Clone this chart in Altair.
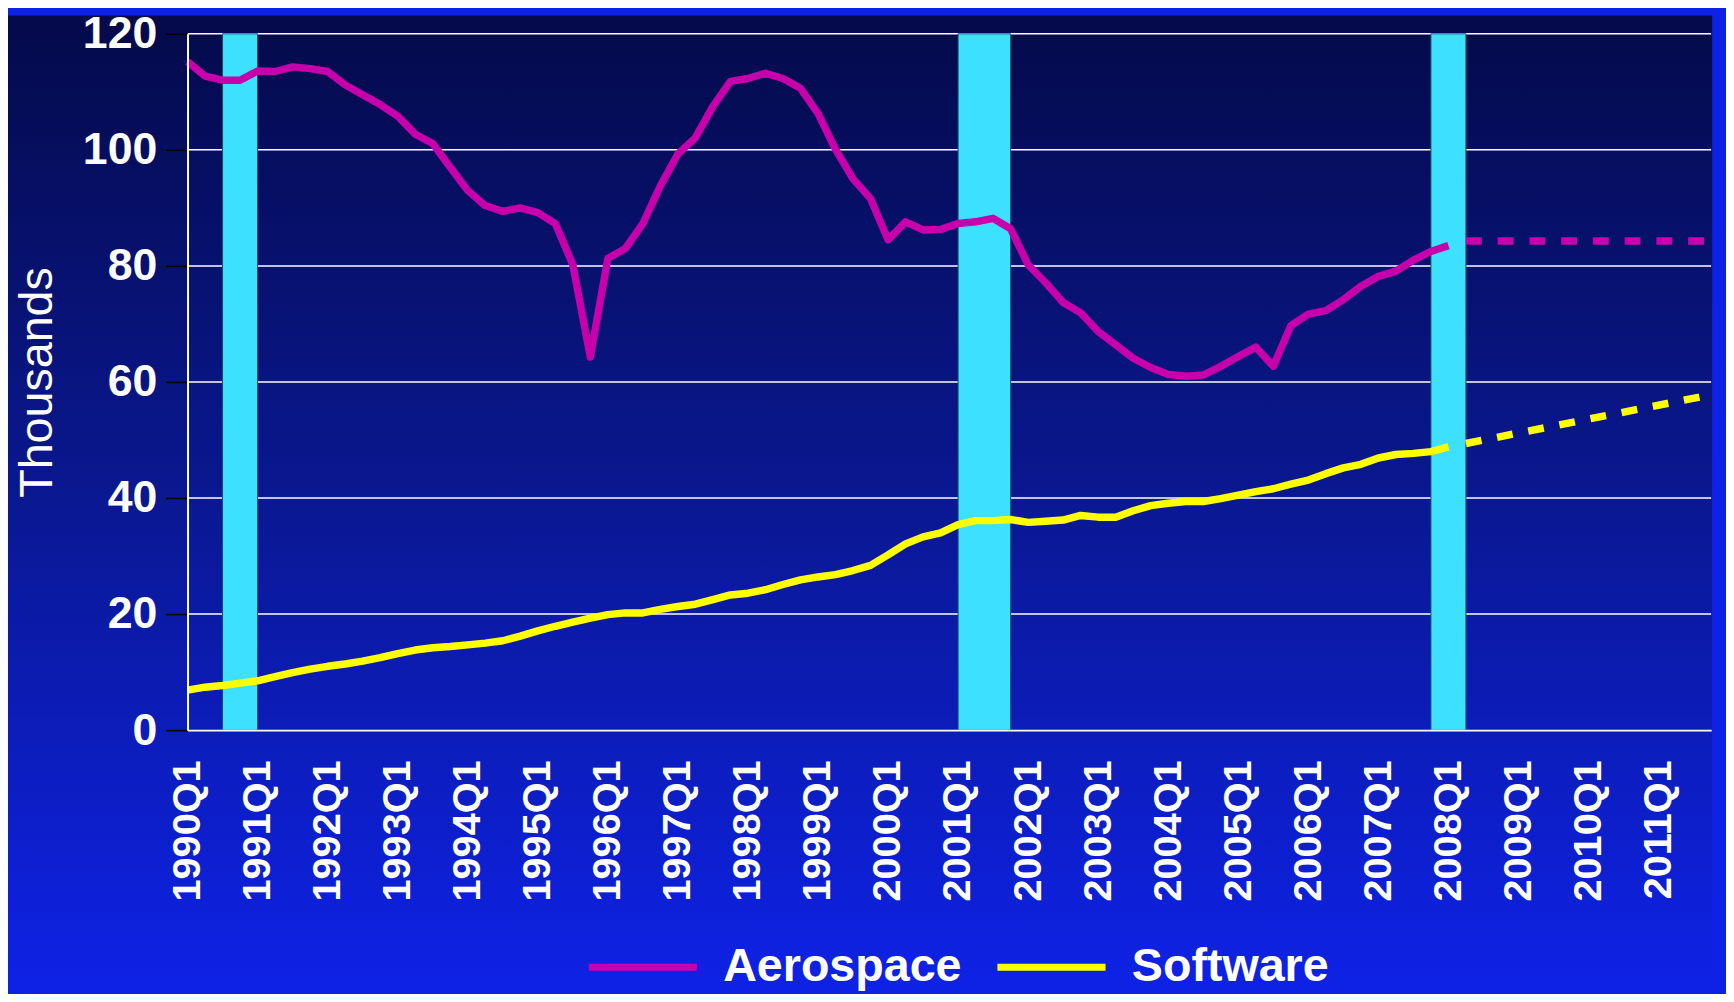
import altair as alt
import pandas as pd

# ---------------- data ----------------
quarters = [f"{y}Q{q}" for y in range(1990, 2012) for q in range(1, 5)]  # 1990Q1 .. 2011Q4
hist_quarters = quarters[:73]  # 1990Q1 .. 2008Q1

aerospace = [
    115.2, 112.7, 112.0, 112.0, 113.6, 113.5, 114.3, 114.0, 113.5, 111.2,
    109.5, 107.8, 105.8, 102.7, 101.1, 97.0, 93.0, 90.4, 89.4, 90.0,
    89.2, 87.3, 80.2, 64.3, 81.3, 83.0, 87.3, 93.8, 99.3, 102.1,
    107.5, 111.8, 112.3, 113.2, 112.3, 110.6, 106.3, 100.1, 95.0, 91.6,
    84.5, 87.6, 86.2, 86.3, 87.3, 87.6, 88.2, 86.4, 80.2, 77.1,
    73.7, 71.9, 68.7, 66.4, 64.1, 62.5, 61.3, 61.0, 61.2, 62.7,
    64.4, 66.0, 62.7, 69.7, 71.7, 72.3, 74.2, 76.5, 78.2, 79.1,
    81.0, 82.5, 83.5,
]
software = [
    6.9, 7.4, 7.7, 8.1, 8.5, 9.2, 9.9, 10.5, 11.0, 11.4,
    11.9, 12.5, 13.2, 13.8, 14.2, 14.4, 14.7, 15.0, 15.4, 16.2,
    17.1, 17.9, 18.6, 19.3, 19.9, 20.2, 20.2, 20.8, 21.3, 21.7,
    22.5, 23.3, 23.6, 24.2, 25.1, 25.9, 26.4, 26.8, 27.5, 28.4,
    30.2, 32.1, 33.3, 34.0, 35.4, 36.1, 36.1, 36.3, 35.8, 36.0,
    36.2, 37.0, 36.7, 36.7, 37.8, 38.7, 39.1, 39.4, 39.4, 39.9,
    40.5, 41.1, 41.6, 42.4, 43.1, 44.2, 45.2, 45.8, 46.9, 47.5,
    47.7, 48.0, 48.8,
]
forecast_quarters = ["2008Q2", "2011Q4"]
aerospace_forecast = [84.3, 84.3]
software_forecast = [49.4, 57.8]

recession_start = ["1990Q3", "2001Q1", "2007Q4"]
recession_end = ["1991Q1", "2001Q4", "2008Q2"]

series_names = ["Aerospace", "Software"]
series_colors = ["#C800AC", "#FFFF00"]
y_ticks = [0, 20, 40, 60, 80, 100, 120]
grid_values = [20, 40, 60, 80, 100, 120]

# ---------------- tables ----------------
hist = pd.DataFrame({
    "quarter": hist_quarters * 2,
    "value": aerospace + software,
    "series": ["Aerospace"] * len(aerospace) + ["Software"] * len(software),
})
fc = pd.DataFrame({
    "quarter": forecast_quarters * 2,
    "value": aerospace_forecast + software_forecast,
    "series": ["Aerospace"] * 2 + ["Software"] * 2,
})
rec = pd.DataFrame({"start": recession_start, "end": recession_end})
grid = pd.DataFrame({"g": grid_values})

# ---------------- layout ----------------
W, H = 1536, 702
LEFT, TOP = 181, 18.5
TOTAL_W, TOTAL_H = 1718, 980
FONT = "Liberation Sans"

xs = alt.Scale(type="point", domain=quarters, padding=0)
ys = alt.Scale(domain=[0, 120], nice=False, zero=True)

x_axis = alt.Axis(
    values=quarters[::4], labelAngle=270, labelAlign="right", labelBaseline="middle",
    labelFont=FONT, labelFontSize=40, labelFontWeight="bold", labelColor="white",
    labelPadding=30, ticks=False, domainColor="white", domainWidth=2,
    grid=False, title=None, zindex=1, labelOverlap=False,
)
y_axis = alt.Axis(
    values=y_ticks, labelFont=FONT, labelFontSize=45, labelFontWeight="bold",
    labelColor="white", labelPadding=9, tickColor="black", tickSize=22, tickWidth=1.5,
    domainColor="white", domainWidth=2, grid=False,
    title="Thousands", titleFont=FONT, titleFontSize=47, titleFontWeight="normal",
    titleColor="white", titleAngle=270, titleAlign="center", titleBaseline="alphabetic",
    titleX=-137, titleY=H / 2, zindex=1,
)

color = alt.Color(
    "series:N",
    scale=alt.Scale(domain=series_names, range=series_colors),
    legend=alt.Legend(
        orient="none", legendX=401, legendY=883, direction="horizontal", title=None,
        labelFont=FONT, labelFontSize=47, labelFontWeight="bold", labelColor="white",
        symbolType="stroke", symbolSize=109 * 109, symbolStrokeWidth=7,
        labelOffset=23, columnPadding=21, padding=0, labelLimit=0,
    ),
)

bg = alt.Chart(pd.DataFrame({"a": [0]})).mark_rect(
    fill=alt.Gradient(
        gradient="linear", x1=0, x2=0, y1=0, y2=1,
        stops=[alt.GradientStop(color="#040a4a", offset=0),
               alt.GradientStop(color="#0a1892", offset=0.5),
               alt.GradientStop(color="#0e22e6", offset=1)],
    )
).encode(
    x=alt.value(-LEFT), x2=alt.value(TOTAL_W - LEFT),
    y=alt.value(-TOP), y2=alt.value(TOTAL_H - TOP),
)

gridlines = alt.Chart(grid).mark_rule(color="white", strokeWidth=1.5).encode(
    y=alt.Y("g:Q", scale=ys, axis=y_axis),
)

bars = alt.Chart(rec).mark_rect(fill="#3DE1FF", stroke="#17505e", strokeWidth=1).encode(
    x=alt.X("start:O", scale=xs, axis=x_axis),
    x2="end:O",
    y=alt.Y(datum=120, type="quantitative", scale=ys, axis=y_axis),
    y2=alt.Y2(datum=0),
)

lines = alt.Chart(hist).mark_line(strokeWidth=7.5, strokeJoin="round").encode(
    x=alt.X("quarter:O", scale=xs, axis=x_axis),
    y=alt.Y("value:Q", scale=ys, axis=y_axis),
    color=color,
)

forecast = alt.Chart(fc).mark_line(strokeWidth=7.5, strokeDash=[16, 16]).encode(
    x=alt.X("quarter:O", scale=xs, axis=x_axis),
    y=alt.Y("value:Q", scale=ys, axis=y_axis),
    color=color,
)

chart = alt.layer(bg, gridlines, bars, lines, forecast).properties(
    width=W, height=H, padding=0, background="#0e22e6",
).configure(font=FONT).configure_view(stroke=None)

chart.save("out.html", embed_options={"renderer": "svg", "actions": False})
